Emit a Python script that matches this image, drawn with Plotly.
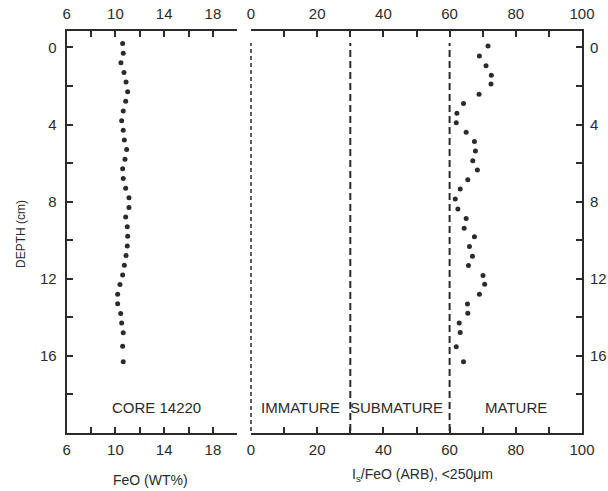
import plotly.graph_objects as go

# ---- data ----
feo_depth = [-0.2, 0.3, 0.8, 1.3, 1.8, 2.3, 2.8, 3.3, 3.8, 4.3, 4.8, 5.3, 5.8, 6.3, 6.8, 7.3,
             7.8, 8.3, 8.8, 9.3, 9.8, 10.3, 10.8, 11.3, 11.8, 12.3, 12.8, 13.3, 13.8, 14.3,
             14.8, 15.5, 16.3]
feo_wt = [10.59, 10.64, 10.45, 10.70, 10.87, 11.00, 10.84, 10.64, 10.51, 10.64, 10.73, 10.92,
          10.78, 10.59, 10.64, 10.84, 11.11, 11.11, 10.84, 10.97, 11.00, 10.97, 10.87, 10.73,
          10.59, 10.37, 10.18, 10.18, 10.43, 10.51, 10.64, 10.59, 10.64]

is_depth = [-0.07, 0.45, 0.95, 1.45, 1.9, 2.43, 2.91, 3.41, 3.91, 4.4, 4.88, 5.38, 5.88, 6.36,
            6.86, 7.34, 7.86, 8.38, 8.88, 9.38, 9.82, 10.33, 10.83, 11.31, 11.83, 12.29, 12.81,
            13.31, 13.79, 14.29, 14.79, 15.53, 16.31]
is_feo = [71.6, 69.0, 71.0, 72.6, 72.5, 68.9, 64.2, 62.2, 62.0, 65.0, 67.5, 67.8, 67.0, 68.4,
          65.5, 63.2, 61.7, 62.5, 65.0, 64.4, 67.5, 66.0, 66.9, 65.7, 70.1, 70.6, 69.0, 65.4,
          65.5, 62.9, 63.2, 62.0, 64.2]

zone_bounds = [0, 30, 60]
zone_labels = ["IMMATURE", "SUBMATURE", "MATURE"]
zone_label_x = [15, 44, 80]

feo_ticks = [6, 8, 10, 12, 14, 16, 18, 20]
feo_labels = ["6", "", "10", "", "14", "", "18", ""]
is_ticks = [0, 10, 20, 30, 40, 50, 60, 70, 80, 90, 100]
is_labels = ["0", "", "20", "", "40", "", "60", "", "80", "", "100"]
depth_ticks = [0, 2, 4, 6, 8, 10, 12, 14, 16, 18]
depth_labels = ["0", "", "4", "", "8", "", "12", "", "16", ""]

W, H = 608, 491
FONT = "Liberation Sans, Arial, sans-serif"
INK = "#2b2b2b"
FS = 15

def px_x(p):
    return p / W

def px_y(p):
    return 1 - p / H

ydom = [px_y(433), px_y(31)]
x1dom = [px_x(66.7), px_x(237.3)]
x2dom = [px_x(251), px_x(582)]
x2range = [0, 100]
yrange = [20, -0.85]

fig = go.Figure()
fig.add_trace(go.Scatter(x=feo_wt, y=feo_depth, mode="markers", xaxis="x", yaxis="y",
                         marker=dict(size=5, color=INK), showlegend=False))
fig.add_trace(go.Scatter(x=is_feo, y=is_depth, mode="markers", xaxis="x2", yaxis="y2",
                         marker=dict(size=5, color=INK), showlegend=False))
fig.add_trace(go.Scatter(x=[None], y=[None], xaxis="x3", yaxis="y", showlegend=False))
fig.add_trace(go.Scatter(x=[None], y=[None], xaxis="x4", yaxis="y2", showlegend=False))

axcommon = dict(showline=True, linecolor=INK, linewidth=2, ticks="inside", ticklen=6,
                tickwidth=2, tickcolor=INK, showgrid=False, zeroline=False, automargin=False,
                tickfont=dict(family=FONT, size=FS, color=INK))

fig.update_layout(
    width=W, height=H, margin=dict(l=0, r=0, t=0, b=0, autoexpand=False),
    paper_bgcolor="white", plot_bgcolor="white",
    font=dict(family=FONT, color=INK),
    xaxis=dict(domain=x1dom, range=[6, 20], anchor="y", side="bottom",
               tickmode="array", tickvals=feo_ticks, ticktext=feo_labels,
               ticklabelstandoff=2, **axcommon),
    xaxis3=dict(range=[6, 20], overlaying="x", anchor="y", side="top",
                tickmode="array", tickvals=feo_ticks, ticktext=feo_labels,
                ticklabelstandoff=4, **axcommon),
    yaxis=dict(domain=ydom, range=yrange, anchor="x", side="left",
               tickmode="array", tickvals=depth_ticks, ticktext=depth_labels,
               ticklabelstandoff=5, **axcommon),
    xaxis2=dict(domain=x2dom, range=x2range, anchor="y2", side="bottom",
                tickmode="array", tickvals=is_ticks, ticktext=is_labels,
                ticklabelstandoff=2, **axcommon),
    xaxis4=dict(range=x2range, overlaying="x2", anchor="y2", side="top",
                tickmode="array", tickvals=is_ticks, ticktext=is_labels,
                ticklabelstandoff=4, **axcommon),
    yaxis2=dict(domain=ydom, range=yrange, anchor="x2", side="right",
                tickmode="array", tickvals=depth_ticks, ticktext=depth_labels,
                ticklabelstandoff=3, **axcommon),
)

# zone boundaries: positioned via the x2 scale, referenced to paper so the x=0 line is not clipped
dashes = ["4px,3px", "7px,4px", "7px,4px"]
widths = [1.5, 2, 2]
ybot = ydom[0] + 0.005 * (ydom[1] - ydom[0])
ytop = ydom[0] + 0.97 * (ydom[1] - ydom[0])
for b, d, w in zip(zone_bounds, dashes, widths):
    xp = x2dom[0] + (b - x2range[0]) / (x2range[1] - x2range[0]) * (x2dom[1] - x2dom[0])
    fig.add_shape(type="line", xref="paper", yref="paper", x0=xp, x1=xp, y0=ybot, y1=ytop,
                  line=dict(color=INK, width=w, dash=d))

for lab, lx in zip(zone_labels, zone_label_x):
    fig.add_annotation(x=lx, y=18.7, xref="x2", yref="y2", text=lab, showarrow=False,
                       xanchor="center", yanchor="middle",
                       font=dict(family=FONT, size=FS, color=INK))

fig.add_annotation(x=13.4, y=18.7, xref="x", yref="y", text="CORE 14220", showarrow=False,
                   xanchor="center", yanchor="middle",
                   font=dict(family=FONT, size=FS, color=INK))
fig.add_annotation(x=px_x(150), y=px_y(480), xref="paper", yref="paper", text="FeO (WT%)",
                   xanchor="center", yanchor="middle",
                   showarrow=False, font=dict(family=FONT, size=14, color=INK))
fig.add_annotation(x=px_x(422), y=px_y(475), xref="paper", yref="paper",
                   text="I<sub>s</sub>/FeO (ARB), &lt;250μm",
                   xanchor="center", yanchor="middle",
                   showarrow=False, font=dict(family=FONT, size=14, color=INK))
fig.add_annotation(x=px_x(21), y=px_y(234), xref="paper", yref="paper", text="DEPTH (cm)",
                   xanchor="center", yanchor="middle",
                   textangle=-90, showarrow=False, font=dict(family=FONT, size=12, color=INK))

fig.write_html("out.html", config={"displayModeBar": False},
               post_script="document.body.style.margin='0px';")
